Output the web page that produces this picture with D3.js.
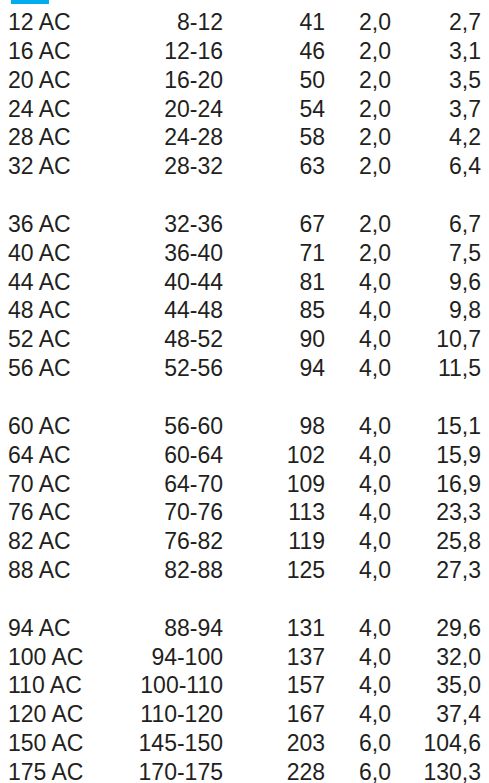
<!DOCTYPE html>
<html>
<head>
<meta charset="utf-8">
<script src="https://cdn.jsdelivr.net/npm/d3@7"></script>
<style>
  html, body { margin: 0; padding: 0; background: #fff; }
  svg { display: block; }
</style>
</head>
<body>
<div id="my_dataviz"></div>
<script>
  // table values, one array per column
  var models = ["12 AC", "16 AC", "20 AC", "24 AC", "28 AC", "32 AC",
                "36 AC", "40 AC", "44 AC", "48 AC", "52 AC", "56 AC",
                "60 AC", "64 AC", "70 AC", "76 AC", "82 AC", "88 AC",
                "94 AC", "100 AC", "110 AC", "120 AC", "150 AC", "175 AC"];
  var ranges = ["8-12", "12-16", "16-20", "20-24", "24-28", "28-32",
                "32-36", "36-40", "40-44", "44-48", "48-52", "52-56",
                "56-60", "60-64", "64-70", "70-76", "76-82", "82-88",
                "88-94", "94-100", "100-110", "110-120", "145-150", "170-175"];
  var col3 = [41, 46, 50, 54, 58, 63,
              67, 71, 81, 85, 90, 94,
              98, 102, 109, 113, 119, 125,
              131, 137, 157, 167, 203, 228];
  var col4 = [2.0, 2.0, 2.0, 2.0, 2.0, 2.0,
              2.0, 2.0, 4.0, 4.0, 4.0, 4.0,
              4.0, 4.0, 4.0, 4.0, 4.0, 4.0,
              4.0, 4.0, 4.0, 4.0, 6.0, 6.0];
  var col5 = [2.7, 3.1, 3.5, 3.7, 4.2, 6.4,
              6.7, 7.5, 9.6, 9.8, 10.7, 11.5,
              15.1, 15.9, 16.9, 23.3, 25.8, 27.3,
              29.6, 32.0, 35.0, 37.4, 104.6, 130.3];

  var width = 489, height = 783;
  var groupSize = 6;

  // decimal comma
  var fmt = d3.formatLocale({decimal: ",", thousands: ".", grouping: [3], currency: ["", ""]}).format(".1f");

  var rows = models.map(function(m, i) {
    return {model: m, range: ranges[i], a: col3[i], b: col4[i], c: col5[i],
            slot: i + Math.floor(i / groupSize)};
  });

  var svg = d3.select("#my_dataviz")
    .append("svg")
      .attr("width", width)
      .attr("height", height);

  // small blue tab on top
  svg.append("rect")
    .attr("x", 11).attr("y", 0)
    .attr("width", 38).attr("height", 4)
    .attr("fill", "#00aeef");

  var nSlots = d3.max(rows, function(d) { return d.slot; });
  // baseline of each row
  var y = d3.scaleLinear()
    .domain([0, nSlots])
    .range([30, 780]);

  var columns = [
    {x: 8,   anchor: "start", text: function(d) { return d.model; }},
    {x: 223, anchor: "end",   text: function(d) { return d.range; }},
    {x: 325, anchor: "end",   text: function(d) { return d.a; }},
    {x: 391, anchor: "end",   text: function(d) { return fmt(d.b); }},
    {x: 481, anchor: "end",   text: function(d) { return fmt(d.c); }}
  ];

  var row = svg.selectAll("g.row")
    .data(rows)
    .enter()
    .append("g")
      .attr("class", "row")
      .attr("transform", function(d) { return "translate(0," + y(d.slot) + ")"; });

  columns.forEach(function(col) {
    row.append("text")
      .attr("x", col.x)
      .attr("text-anchor", col.anchor)
      .attr("font-family", "'Liberation Sans', Arial, sans-serif")
      .attr("font-size", 23)
      .attr("fill", "#231f20")
      .text(col.text);
  });
</script>
</body>
</html>
